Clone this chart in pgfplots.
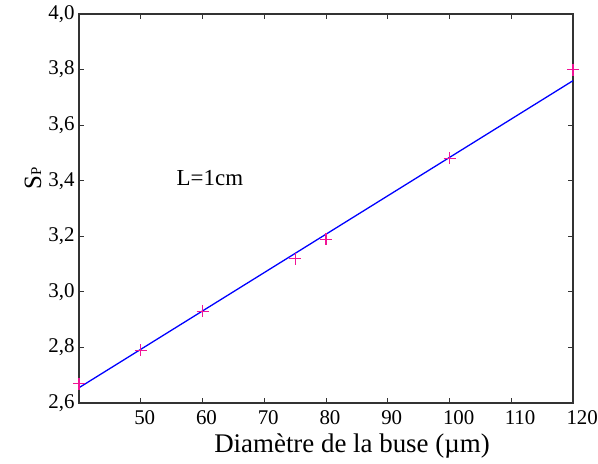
\documentclass[border=0pt]{standalone}
\usepackage{pgfplots}
\pgfplotsset{compat=1.18}
\usepackage{fontspec}
\setmainfont{Liberation Serif}
\begin{document}
\begin{tikzpicture}
\useasboundingbox (-79bp,-61bp) rectangle (519bp,403bp);
\begin{axis}[
  scale only axis,
  clip=false,
  width=494bp, height=389bp,
  xmin=40, xmax=120, ymin=2.6, ymax=4.0,
  xtick={40,50,60,70,80,90,100,110,120},
  xticklabels={,50,60,70,80,90,100,110,120},
  ytick={2.6,2.8,3.0,3.2,3.4,3.6,3.8,4.0},
  tick align=inside,
  major tick length=5bp,
  axis line style={line width=1.3pt, black!80},
  every tick/.style={line width=1pt, black!80},
  ticklabel style={font=\fontsize{21}{24}\selectfont},
  /pgf/number format/assume math mode=true,
  y tick label style={xshift=-1bp},
  yticklabel style={/pgf/number format/.cd, use comma, fixed, fixed zerofill, precision=1},
  x tick label style={anchor=north west, xshift=-10bp, yshift=-4bp},
  xlabel={Diamètre de la buse (µm)},
  ylabel={S{\fontsize{15}{15}\selectfont P}},
  label style={font=\fontsize{25}{28}\selectfont},
  xlabel style={font=\fontsize{27}{30}\selectfont, xshift=26bp, yshift=-2bp},
  ylabel style={yshift=0bp, xshift=30bp},
]
\addplot[blue, line width=1.3pt] coordinates {(40,2.655) (120,3.76)};
\addplot[only marks, mark=+, mark size=6bp, color={rgb,255:red,240;green,20;blue,150}, mark options={line width=1.1pt}] coordinates {
(40,2.67) (50,2.79) (60,2.93) (75,3.12) (80,3.19) (100,3.48) (120,3.80)};
\node[font=\fontsize{23}{26}\selectfont] at (axis cs:61.2,3.41) {L=1cm};
\end{axis}
\end{tikzpicture}
\end{document}
